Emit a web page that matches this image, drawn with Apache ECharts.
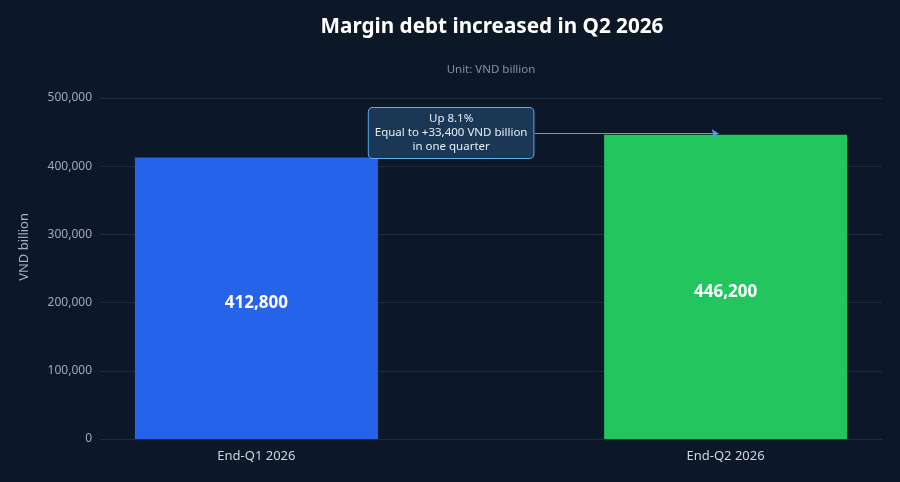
<!DOCTYPE html>
<html>
<head>
<meta charset="utf-8">
<script src="https://cdn.jsdelivr.net/npm/echarts@6/dist/echarts.min.js"></script>
<style>
  html, body { margin: 0; padding: 0; background: #0c1727; }
  #chart { width: 900px; height: 482px; }
</style>
</head>
<body>
<div id="chart"></div>
<script>
// data
const categories = ['End-Q1 2026', 'End-Q2 2026'];
const values = [412800, 446200];
const barColors = ['#2563eb', '#22c55e'];
const yTicks = [0, 100000, 200000, 300000, 400000, 500000];
const noteText = 'Up 8.1%\nEqual to +33,400 VND billion\nin one quarter';
// where the callout sits (x in category index units)
const noteX = 0.415, noteY = 448700;
const arrowFrom = [0.593, 447800], arrowTo = [0.985, 447800];

const font = '"Noto Sans", "Open Sans", sans-serif';

let chart = echarts.init(document.getElementById('chart'));

const option = {
  backgroundColor: '#0c1727',
  textStyle: { fontFamily: font },
  title: [
    {
      text: 'Margin debt increased in Q2 2026',
      left: 487, top: 12, textAlign: 'center',
      textStyle: { color: '#ffffff', fontSize: 20.7, fontWeight: 'bold', fontFamily: font }
    },
    {
      text: 'Unit: VND billion',
      left: 486, top: 59, textAlign: 'center',
      textStyle: { color: '#8391a7', fontSize: 11.5, fontWeight: 'normal', fontFamily: font }
    }
  ],
  grid: { left: 100, right: 18, top: 98, bottom: 43 },
  xAxis: {
    type: 'value',
    min: -1 / 3,
    max: 4 / 3,
    splitLine: { show: false },
    axisLine: { show: false },
    axisTick: { show: false },
    axisLabel: {
      customValues: [0, 1],
      formatter: function (v) { return categories[Math.round(v)]; },
      color: '#cfd6e0', fontSize: 13, margin: 11, fontFamily: font
    }
  },
  yAxis: {
    type: 'value',
    min: yTicks[0],
    max: yTicks[yTicks.length - 1],
    interval: 100000,
    axisLine: { show: false },
    axisTick: { show: false },
    splitLine: { lineStyle: { color: '#1f2c3d', width: 1 } },
    axisLabel: {
      color: '#a0aab8', fontSize: 12, margin: 8, fontFamily: font,
      formatter: function (v) { return v.toLocaleString('en-US'); }
    }
  },
  graphic: [
    {
      type: 'text',
      left: 18, top: 213,
      rotation: Math.PI / 2,
      style: { text: 'VND billion', fill: '#a5afbd', fontSize: 13, fontFamily: font }
    }
  ],
  series: [
    {
      type: 'bar',
      barWidth: 243,
      data: values.map(function (v, i) {
        return { value: [i, v], itemStyle: { color: barColors[i] } };
      }),
      label: {
        show: true, position: 'inside', offset: [0, 5],
        color: '#ffffff', fontSize: 17, fontWeight: 'bold', fontFamily: font,
        formatter: function (p) { return p.value[1].toLocaleString('en-US'); }
      },
      markLine: {
        silent: true,
        symbol: ['none', 'arrow'],
        symbolSize: [7, 7],
        lineStyle: { color: '#4fa3e0', width: 1, type: 'solid' },
        label: { show: false },
        data: [[{ coord: arrowFrom }, { coord: arrowTo }]]
      },
      markPoint: {
        silent: true,
        symbol: 'rect',
        symbolSize: 0,
        data: [{ coord: [noteX, noteY] }],
        label: {
          show: true, position: 'inside',
          formatter: noteText,
          color: '#e8eef5', fontSize: 11.5, lineHeight: 14, align: 'center',
          fontFamily: font,
          backgroundColor: '#1a3756',
          borderColor: '#5aaee6', borderWidth: 1, borderRadius: 4,
          padding: [4, 6, 4, 6]
        }
      }
    }
  ]
};

chart.setOption(option);
</script>
</body>
</html>
